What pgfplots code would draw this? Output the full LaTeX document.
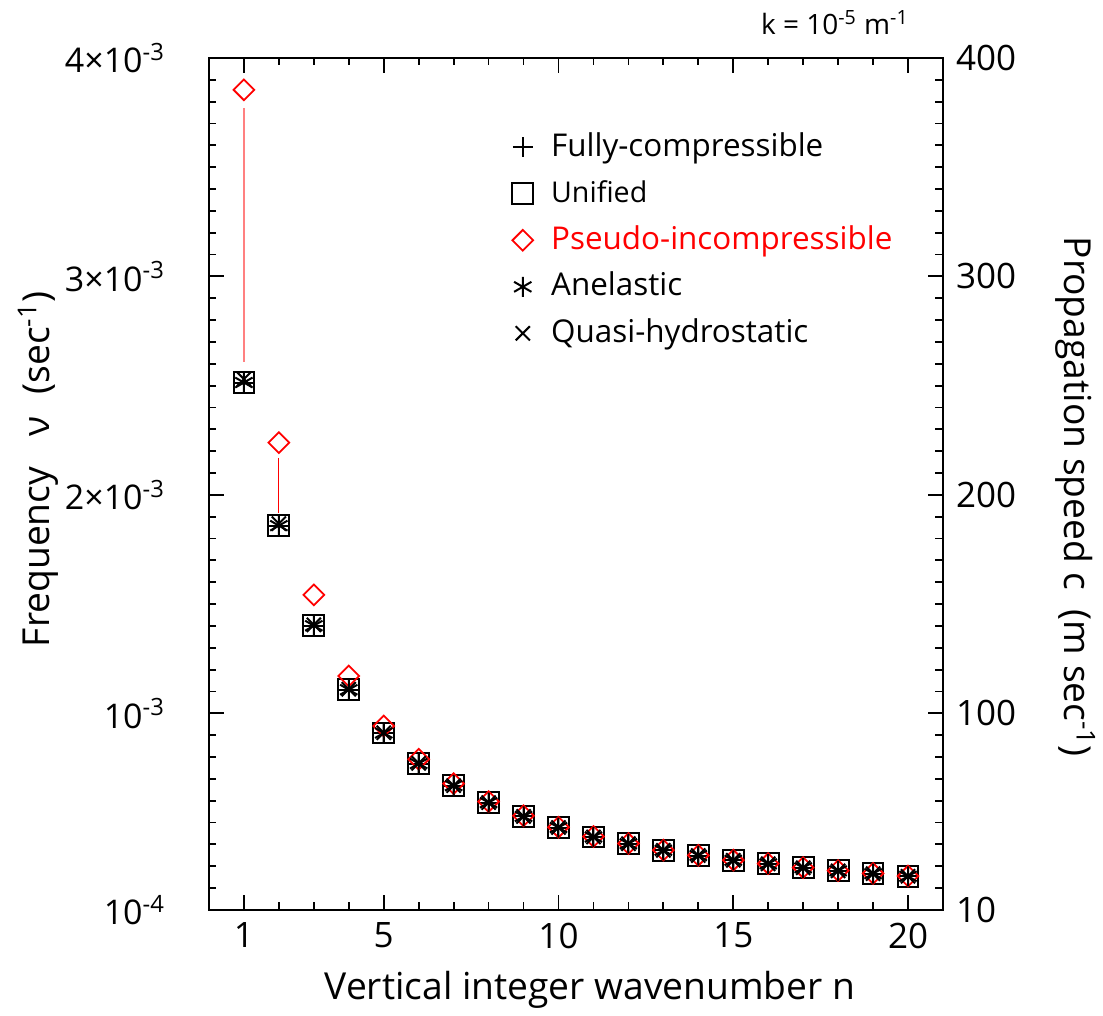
\documentclass[border=0pt]{standalone}
\usepackage{pgfplots}
\pgfplotsset{compat=1.18}
\usepackage{fontspec}
\setmainfont{Open Sans}
\newfontfamily\grk{Open Sans}
\begin{document}
\begin{tikzpicture}
\begin{axis}[
  width=367pt, height=426pt, scale only axis,
  xmin=0, xmax=21, ymin=0.1, ymax=4,
  clip=false,
  axis line style={line width=1.25pt},
  every tick/.style={black, line width=0.9pt},
  major tick length=7.5pt, minor tick length=3.75pt,
  tick align=inside,
  xtick={1,5,10,15,20},
  minor xtick={2,3,4,6,7,8,9,11,12,13,14,16,17,18,19},
  ytick={0.1,1,2,3,4},
  minor ytick={0.2,0.3,0.4,0.5,0.6,0.7,0.8,0.9,1.1,1.2,1.3,1.4,1.5,1.6,1.7,1.8,1.9,2.1,2.2,2.3,2.4,2.5,2.6,2.7,2.8,2.9,3.1,3.2,3.3,3.4,3.5,3.6,3.7,3.8,3.9},
  xticklabels={1,5,10,15,20},
  yticklabels={10\textsuperscript{-4},10\textsuperscript{-3},2×10\textsuperscript{-3},3×10\textsuperscript{-3},4×10\textsuperscript{-3}},
  xticklabel style={font=\fontsize{17.5}{20}\selectfont, yshift=-3pt},
  yticklabel style={font=\fontsize{17}{20}\selectfont, xshift=-18.5pt},
  legend cell align=left,
  legend style={at={(rel axis cs:0.4128,0.9228)}, anchor=north west, draw=none, fill=none, inner sep=0pt,
    font=\fontsize{15.7}{18}\selectfont,
    /tikz/every odd column/.append style={column sep=4pt},
    nodes={inner xsep=5pt, inner ysep=4pt, text height=12pt, text depth=3.25pt}},
]
\path (rel axis cs:-0.2847,-0.115) rectangle (rel axis cs:1.218,1.068);
\addplot[red!50, line width=1pt, forget plot] coordinates {(1,3.771) (1,2.608)};
\addplot[red, line width=0.6pt, forget plot] coordinates {(2,2.169) (2,1.917)};
% Fully-compressible
\addplot[only marks, mark=+, mark size=5pt, black, line width=1pt] coordinates {
(1,2.514)(2,1.859)(3,1.401)(4,1.108)(5,0.910)(6,0.770)(7,0.669)(8,0.591)(9,0.528)(10,0.477)
(11,0.434)(12,0.403)(13,0.373)(14,0.349)(15,0.327)(16,0.311)(17,0.293)(18,0.279)(19,0.266)(20,0.254)};
\addlegendentry{Fully-compressible}
% Unified
\addplot[only marks, mark=square, mark size=5.2pt, black, line width=1pt] coordinates {
(1,2.514)(2,1.859)(3,1.401)(4,1.108)(5,0.910)(6,0.770)(7,0.669)(8,0.591)(9,0.528)(10,0.477)
(11,0.434)(12,0.403)(13,0.373)(14,0.349)(15,0.327)(16,0.311)(17,0.293)(18,0.279)(19,0.266)(20,0.254)};
\addlegendentry{{\fontsize{14.3}{16}\selectfont Unified}}
% Pseudo-incompressible
\addplot[only marks, mark=square, mark size=3.66pt, mark options={rotate=45}, red, line width=0.9pt] coordinates {
(1,3.854)(2,2.239)(3,1.542)(4,1.171)(5,0.942)(6,0.790)(7,0.678)(8,0.596)(9,0.531)(10,0.479)
(11,0.436)(12,0.404)(13,0.374)(14,0.350)(15,0.328)(16,0.312)(17,0.294)(18,0.280)(19,0.267)(20,0.255)};
\addlegendentry{\textcolor{red}{Pseudo-incompressible}}
% Anelastic
\addplot[only marks, mark=asterisk, mark size=5pt, black, line width=1pt] coordinates {
(1,2.514)(2,1.859)(3,1.401)(4,1.108)(5,0.910)(6,0.770)(7,0.669)(8,0.591)(9,0.528)(10,0.477)
(11,0.434)(12,0.403)(13,0.373)(14,0.349)(15,0.327)(16,0.311)(17,0.293)(18,0.279)(19,0.266)(20,0.254)};
\addlegendentry{Anelastic}
% Quasi-hydrostatic
\addplot[only marks, mark=x, mark size=5pt, black, line width=1pt] coordinates {
(1,2.530)(2,1.868)(3,1.405)(4,1.110)(5,0.911)(6,0.771)(7,0.669)(8,0.591)(9,0.528)(10,0.477)
(11,0.434)(12,0.403)(13,0.373)(14,0.349)(15,0.327)(16,0.311)(17,0.293)(18,0.279)(19,0.266)(20,0.254)};
\addlegendentry{Quasi-hydrostatic}
\node[anchor=base] at (rel axis cs:0.519,-0.1056) {\fontsize{18.6}{22}\selectfont Vertical integer wavenumber n};
\node[rotate=90, anchor=center] at (rel axis cs:-0.233,0.517) {\fontsize{18.6}{22}\selectfont Frequency\hspace{0.8em}{\grk ν}\hspace{0.6em}(sec\textsuperscript{-1})};
\node[rotate=-90, anchor=center] at (rel axis cs:1.180,0.485) {\fontsize{18.6}{22}\selectfont Propagation speed c\ \ (m sec\textsuperscript{-1})};
\node[anchor=base east] at (rel axis cs:0.963,1.027) {\fontsize{14}{16}\selectfont k = 10\textsuperscript{-5} m\textsuperscript{-1}};
\end{axis}
\begin{axis}[
  width=367pt, height=426pt, scale only axis,
  xmin=0, xmax=21, ymin=10, ymax=400,
  hide x axis,
  axis line style={draw=none},
  tick style={draw=none},
  ytick={10,100,200,300,400},
  yticklabels={10,100,200,300,400},
  ytick pos=right, yticklabel pos=right,
  yticklabel style={font=\fontsize{17.5}{20}\selectfont, xshift=3pt},
]
\addplot[draw=none, forget plot] coordinates {(0,10)(21,400)};
\end{axis}
\end{tikzpicture}
\end{document}
